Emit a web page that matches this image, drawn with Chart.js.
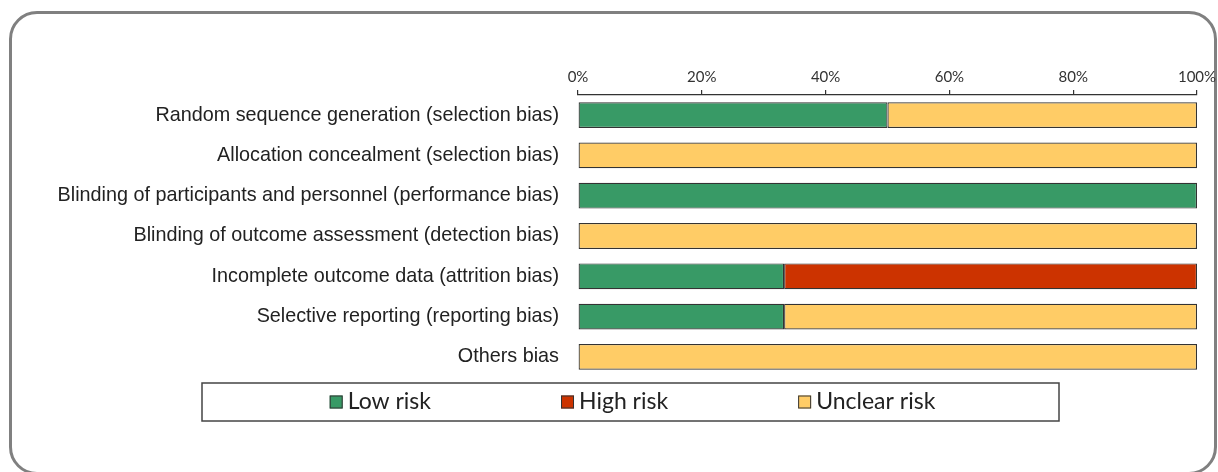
<!DOCTYPE html>
<html>
<head>
<meta charset="utf-8">
<script src="https://cdn.jsdelivr.net/npm/chart.js@4"></script>
<style>
  html, body { margin: 0; padding: 0; background: #fff; }
  #frame {
    position: absolute; left: 9px; top: 11px;
    width: 1208px; height: 464px; box-sizing: border-box;
    border: 3px solid #808080; border-radius: 28px;
  }
  #wrap { position: absolute; left: 0; top: 0; width: 1218px; height: 472px; }
</style>
</head>
<body>
<div id="frame"></div>
<div id="wrap"><canvas id="riskChart" width="1218" height="472"></canvas></div>
<script>
const categories = [
  "Random sequence generation (selection bias)",
  "Allocation concealment (selection bias)",
  "Blinding of participants and personnel (performance bias)",
  "Blinding of outcome assessment (detection bias)",
  "Incomplete outcome data (attrition bias)",
  "Selective reporting (reporting bias)",
  "Others bias",
];
const seriesNames = ["Low risk", "High risk", "Unclear risk"];
const lowRisk = [50, null, 100, null, 33.3, 33.3, null];
const highRisk = [null, null, null, null, 66.7, null, null];
const unclearRisk = [50, 100, null, 100, null, 66.7, 100];
const xTicks = [0, 20, 40, 60, 80, 100];

const colors = ["#389a66", "#cc3300", "#ffcc66"];
const labelFont = "'Liberation Sans', Arial, sans-serif";
const narrowFont = "Lato, 'Open Sans', sans-serif";

// boxed legend under the bars
const boxedLegend = {
  id: "boxedLegend",
  afterDraw(chart) {
    const c = chart.ctx;
    const box = { x: 202, y: 383, w: 857, h: 38 };
    c.save();
    c.strokeStyle = "#444";
    c.lineWidth = 1.5;
    c.strokeRect(box.x, box.y, box.w, box.h);

    c.font = "23px " + narrowFont;
    c.textBaseline = "middle";
    const sq = 13, gapText = 5, gapItem = 130;
    const items = chart.data.datasets.map(ds => ({
      text: ds.label, color: ds.backgroundColor,
      w: sq + gapText + c.measureText(ds.label).width,
    }));
    const total = items.reduce((s, it) => s + it.w, 0) + gapItem * (items.length - 1);
    let x = box.x + box.w / 2 - total / 2 + 2;
    const cy = box.y + box.h / 2;
    items.forEach(it => {
      c.fillStyle = it.color;
      c.fillRect(x, cy - sq / 2, sq, sq);
      c.strokeStyle = "#333";
      c.lineWidth = 1;
      c.strokeRect(x + 0.5, cy - sq / 2 + 0.5, sq - 1, sq - 1);
      c.fillStyle = "#222";
      c.fillText(it.text, x + sq + gapText, cy);
      x += it.w + gapItem;
    });
    c.restore();
  },
};

const series = [lowRisk, highRisk, unclearRisk];

new Chart(document.getElementById("riskChart"), {
  type: "bar",
  data: {
    labels: categories,
    datasets: series.map((values, i) => ({
      label: seriesNames[i],
      data: values,
      backgroundColor: colors[i],
      borderColor: "#333",
      borderWidth: 1.2,
      borderSkipped: false,
      categoryPercentage: 1,
      barPercentage: 0.64,
    })),
  },
  options: {
    indexAxis: "y",
    responsive: false,
    animation: false,
    layout: { padding: { top: 56, right: 21, bottom: 95, left: 0 } },
    plugins: { legend: { display: false }, tooltip: { enabled: false } },
    scales: {
      x: {
        position: "top",
        stacked: true,
        min: 0,
        max: 100,
        afterBuildTicks(scale) { scale.ticks = xTicks.map(v => ({ value: v })); },
        afterFit(scale) {
          scale.height = 39;
          scale.paddingRight = 0; // let "100%" hang past the plot edge
        },
        ticks: {
          callback: v => v + "%",
          color: "#333",
          padding: 4,
          font: { family: narrowFont, size: 15 },
        },
        grid: { drawOnChartArea: false, tickLength: 5, color: "#333", lineWidth: 1.2 },
        border: { display: true, color: "#333", width: 1.2 },
      },
      y: {
        stacked: true,
        afterFit(scale) { scale.width = 578; },
        ticks: {
          color: "#222",
          padding: 11,
          font: { family: labelFont, size: 19.8 },
        },
        grid: { display: false },
        border: { display: false },
      },
    },
  },
  plugins: [boxedLegend],
});
</script>
</body>
</html>
